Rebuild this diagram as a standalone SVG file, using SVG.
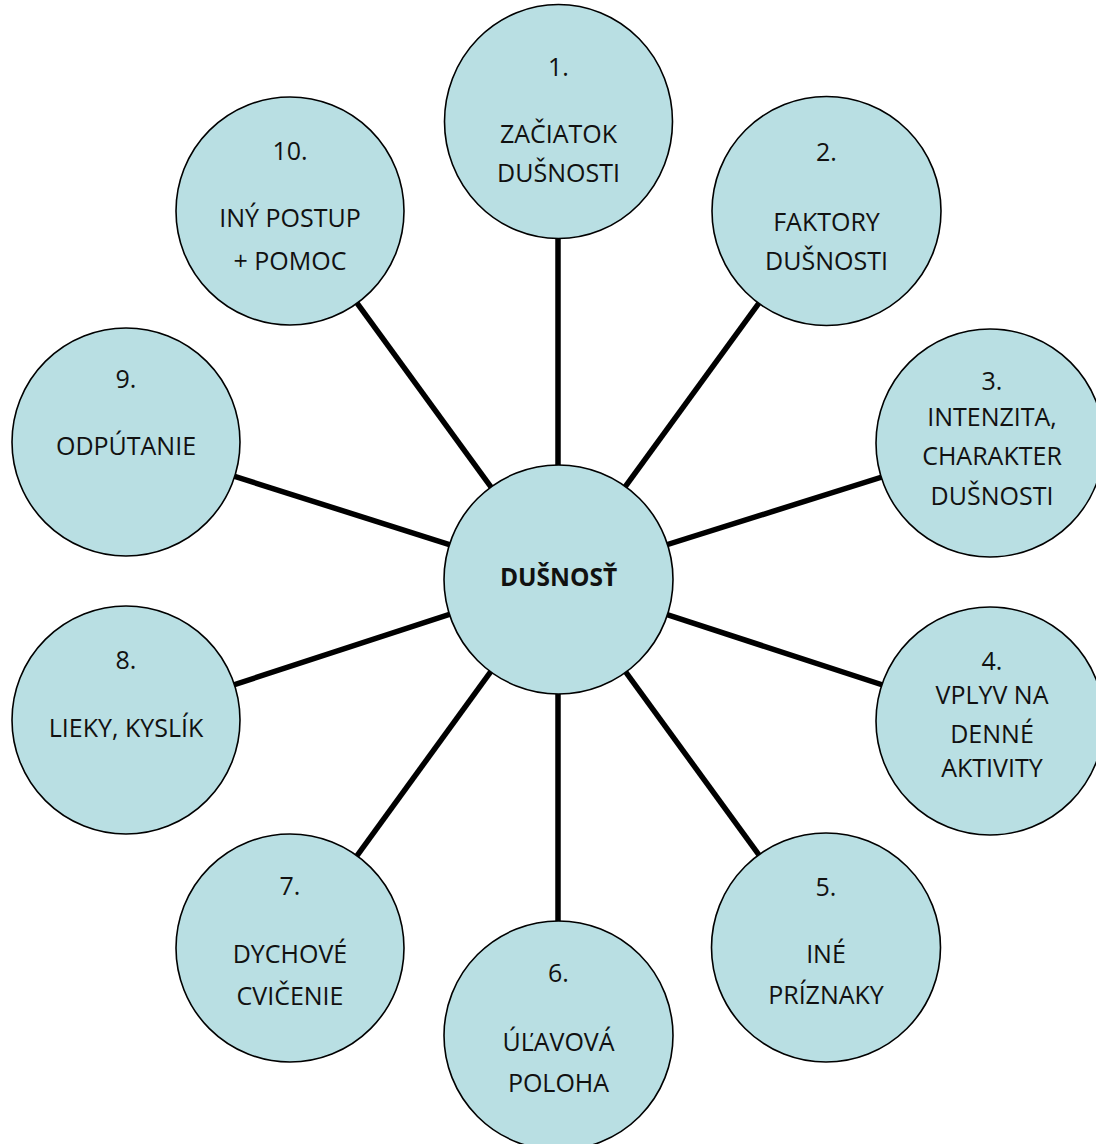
<svg xmlns="http://www.w3.org/2000/svg" width="1096" height="1144" viewBox="0 0 1096 1144">
<style>
.n{fill:#B9DFE3;stroke:#000;stroke-width:1.6}
.t{font-family:"Open Sans","Noto Sans","Liberation Sans",sans-serif;font-size:25px;fill:#111;text-anchor:middle}
.b{font-weight:bold;font-size:24.5px}
.c line{stroke:#000;stroke-width:5.5}
</style>
<rect width="1096" height="1144" fill="#fff"/>
<g id="connectors" class="c">
<line x1="558" y1="579" x2="558" y2="122"/>
<line x1="558" y1="579" x2="826" y2="211"/>
<line x1="558" y1="579" x2="990" y2="443"/>
<line x1="558" y1="579" x2="990" y2="720"/>
<line x1="558" y1="579" x2="826" y2="947"/>
<line x1="558" y1="579" x2="558" y2="1035"/>
<line x1="558" y1="579" x2="290" y2="948"/>
<line x1="558" y1="579" x2="126" y2="720"/>
<line x1="558" y1="579" x2="126" y2="442"/>
<line x1="558" y1="579" x2="290" y2="211"/>
</g>
<g id="center">
<circle class="n" cx="558.5" cy="579.5" r="114.5"/>
<text class="t b" x="558.5" y="586">DUŠNOSŤ</text>
</g>
<g id="n1">
<ellipse class="n" cx="558.5" cy="121.5" rx="114" ry="117"/>
<text class="t" x="558.5" y="76">1.</text>
<text class="t" x="558.5" y="143">ZAČIATOK</text>
<text class="t" x="558.5" y="182">DUŠNOSTI</text>
</g>
<g id="n2">
<circle class="n" cx="826.5" cy="211" r="114.5"/>
<text class="t" x="826.5" y="161">2.</text>
<text class="t" x="826.5" y="231">FAKTORY</text>
<text class="t" x="826.5" y="270">DUŠNOSTI</text>
</g>
<g id="n3">
<circle class="n" cx="990" cy="443" r="114"/>
<text class="t" x="992" y="390">3.</text>
<text class="t" x="992" y="426">INTENZITA,</text>
<text class="t" x="992" y="465">CHARAKTER</text>
<text class="t" x="992" y="505">DUŠNOSTI</text>
</g>
<g id="n4">
<circle class="n" cx="990" cy="721" r="114"/>
<text class="t" x="992" y="670">4.</text>
<text class="t" x="992" y="704">VPLYV NA</text>
<text class="t" x="992" y="743">DENNÉ</text>
<text class="t" x="992" y="777">AKTIVITY</text>
</g>
<g id="n5">
<circle class="n" cx="826" cy="947.5" r="114.5"/>
<text class="t" x="826" y="896">5.</text>
<text class="t" x="826" y="963">INÉ</text>
<text class="t" x="826" y="1004">PRÍZNAKY</text>
</g>
<g id="n6">
<circle class="n" cx="558.5" cy="1035.5" r="114.5"/>
<text class="t" x="558.5" y="982">6.</text>
<text class="t" x="558.5" y="1051">ÚĽAVOVÁ</text>
<text class="t" x="558.5" y="1092">POLOHA</text>
</g>
<g id="n7">
<circle class="n" cx="290" cy="948" r="114"/>
<text class="t" x="290" y="895">7.</text>
<text class="t" x="290" y="963">DYCHOVÉ</text>
<text class="t" x="290" y="1005">CVIČENIE</text>
</g>
<g id="n8">
<circle class="n" cx="126" cy="720" r="114"/>
<text class="t" x="126" y="669">8.</text>
<text class="t" x="126" y="737">LIEKY, KYSLÍK</text>
</g>
<g id="n9">
<circle class="n" cx="126" cy="442" r="114"/>
<text class="t" x="126" y="388">9.</text>
<text class="t" x="126" y="455">ODPÚTANIE</text>
</g>
<g id="n10">
<circle class="n" cx="290" cy="211" r="114"/>
<text class="t" x="290" y="160">10.</text>
<text class="t" x="290" y="227">INÝ POSTUP</text>
<text class="t" x="290" y="270">+ POMOC</text>
</g>
</svg>
